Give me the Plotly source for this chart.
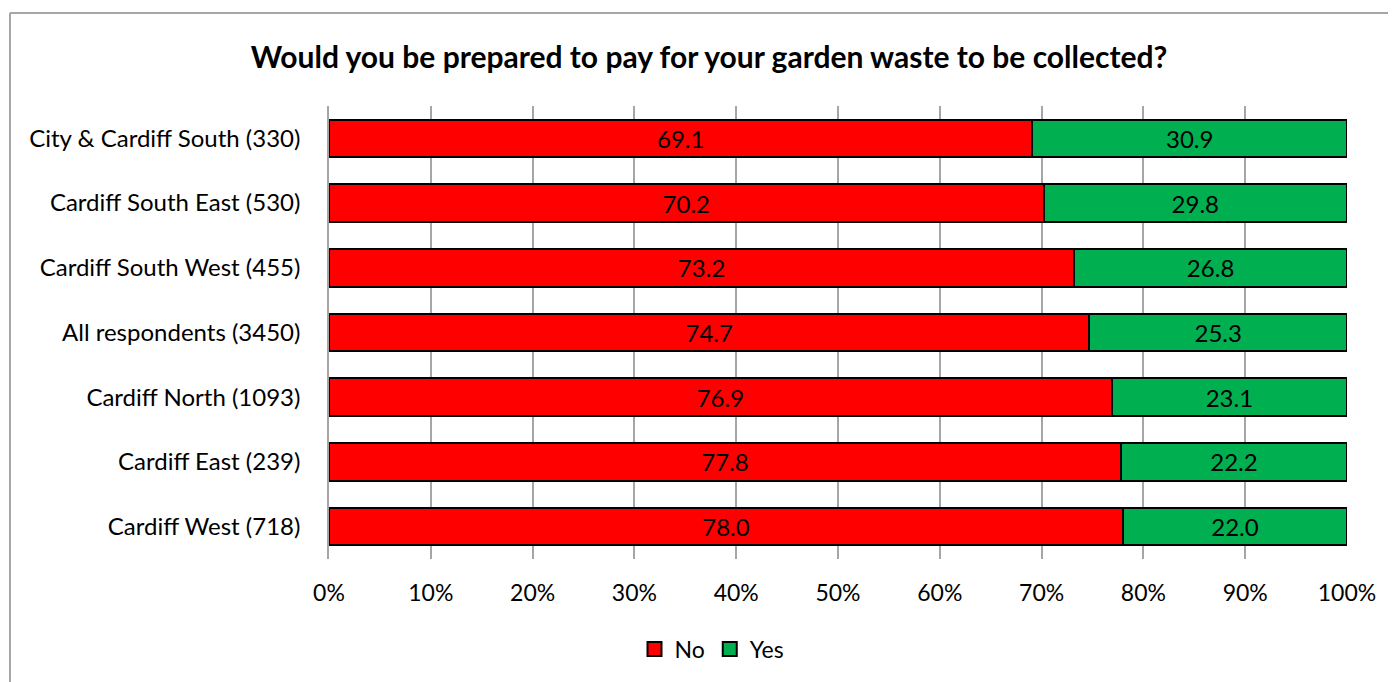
import plotly.graph_objects as go

categories = [
    "City & Cardiff South (330)",
    "Cardiff South East (530)",
    "Cardiff South West (455)",
    "All respondents (3450)",
    "Cardiff North (1093)",
    "Cardiff East (239)",
    "Cardiff West (718)",
]
no_values = [69.1, 70.2, 73.2, 74.7, 76.9, 77.8, 78.0]
yes_values = [30.9, 29.8, 26.8, 25.3, 23.1, 22.2, 22.0]
series_names = ["No", "Yes"]
series_colors = ["#ff0000", "#00b050"]
tick_vals = [0, 10, 20, 30, 40, 50, 60, 70, 80, 90, 100]
tick_text = [f"{v}%" for v in tick_vals]

# page body has an 8px margin; compensate so screen positions match
OFF = 8
W, H = 1396 - OFF, 682 - OFF
L, T = 329 - OFF, 106 - OFF
R = 1396 - 1347
B = 682 - 559
FONT = "Lato, Carlito, Calibri, sans-serif"

fig = go.Figure()
for name, vals, col in zip(series_names, [no_values, yes_values], series_colors):
    fig.add_trace(go.Bar(
        y=categories, x=vals, name=name, orientation="h",
        marker=dict(color=col, line=dict(color="#000000", width=2)),
        text=[f"{v:.1f}" for v in vals], textposition="inside",
        insidetextanchor="middle", textfont=dict(color="#000000", size=24, family=FONT),
        width=0.58, showlegend=False,
    ))
for name, col in zip(series_names, series_colors):
    fig.add_trace(go.Scatter(
        x=[None], y=[None], mode="markers", name=name,
        marker=dict(symbol="square", size=14, color=col,
                    line=dict(color="#000000", width=2)),
    ))

pw = W - L - R
ph = H - T - B
def px_x(x):
    return (x - OFF - L) / pw
def px_y(y):
    return (H - B - (y - OFF)) / ph

fig.update_layout(
    width=W, height=H,
    barmode="stack",
    margin=dict(l=L, r=R, t=T, b=B),
    paper_bgcolor="white", plot_bgcolor="white",
    font=dict(family=FONT, size=24, color="#000000"),
    title=dict(text="<b>Would you be prepared to pay for your garden waste to be collected?</b>",
               x=(709 - OFF) / W, xanchor="center", y=1 - (57 - OFF) / H, yanchor="middle",
               font=dict(size=30, family=FONT, color="#000000")),
    xaxis=dict(range=[0, 100], tickvals=tick_vals, ticktext=tick_text,
               showgrid=True, gridcolor="#a6a6a6", gridwidth=1.5,
               zeroline=False, showline=False, ticks="",
               tickfont=dict(size=23, family=FONT), ticklabelstandoff=18),
    yaxis=dict(autorange="reversed", showgrid=False, showline=True,
               linecolor="#a6a6a6", linewidth=1.5, ticks="",
               tickfont=dict(size=24, family=FONT), ticklabelstandoff=22),
    legend=dict(orientation="h", x=px_x(712), xanchor="center", y=px_y(649), yanchor="middle",
                font=dict(size=23, family=FONT), traceorder="normal",
                itemwidth=30, itemsizing="trace"),
    uniformtext=dict(mode=False),
    shapes=[
        dict(type="line", xref="paper", yref="paper",
             x0=px_x(10), x1=px_x(10), y0=px_y(13), y1=px_y(700),
             line=dict(color="#a6a6a6", width=2)),
        dict(type="line", xref="paper", yref="paper",
             x0=px_x(10), x1=px_x(1400), y0=px_y(13), y1=px_y(13),
             line=dict(color="#a6a6a6", width=2)),
    ],
)

fig.write_html("out.html")
